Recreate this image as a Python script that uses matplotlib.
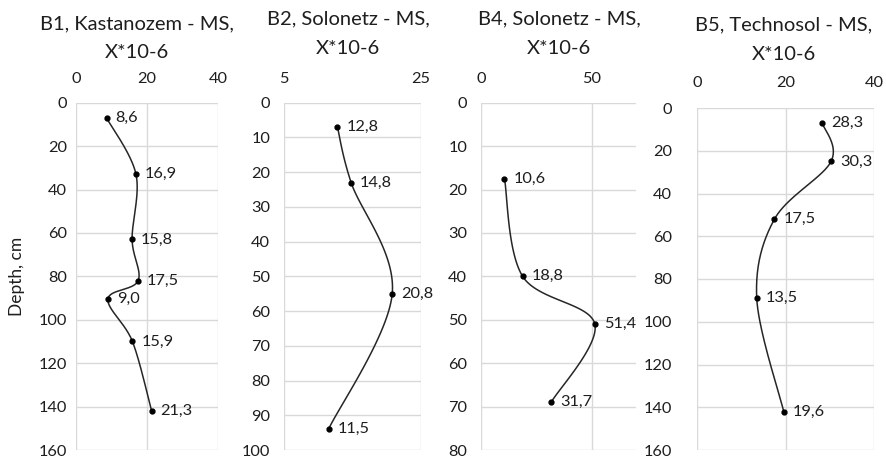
import numpy as np
import matplotlib
matplotlib.use("Agg")
import matplotlib.pyplot as plt

plt.rcParams['font.family'] = ['Lato', 'DejaVu Sans']

# ---- data ----
titles = ["B1, Kastanozem - MS,", "B2, Solonetz - MS,", "B4, Solonetz - MS,", "B5, Technosol - MS,"]
subtitle = "X*10-6"

b1_ms = [8.6, 16.9, 15.8, 17.5, 9.0, 15.9, 21.3]
b1_depth = [7, 33, 63, 82, 90.5, 110, 142]

b2_ms = [12.8, 14.8, 20.8, 11.5]
b2_depth = [7, 23, 55, 94]

b4_ms = [10.6, 18.8, 51.4, 31.7]
b4_depth = [17.5, 40, 51, 69]

b5_ms = [28.3, 30.3, 17.5, 13.5, 19.6]
b5_depth = [7, 25, 52, 89, 142]

xlims = [(0, 40), (5, 25), (0, 70), (0, 40)]
xticks = [[0, 20, 40], [5, 25], [0, 50], [0, 20, 40]]
ylims = [160, 100, 80, 160]
ysteps = [20, 10, 10, 20]

W, H = 886, 459
fig = plt.figure(figsize=(W / 100, H / 100), dpi=100)

# layout in pixels: left, right, top, bottom
boxes = [(76, 218, 102.7, 450), (284, 421, 102.7, 450), (481, 636, 102.7, 450), (697, 874, 108, 450)]
title_pos = [(137, 24, 53), (348, 19, 48), (559, 19, 49), (784, 25, 55)]
ypads = [6.5, 10, 10, 18]
xpads = [12, 12, 12, 13]

series = [(b1_ms, b1_depth), (b2_ms, b2_depth), (b4_ms, b4_depth), (b5_ms, b5_depth)]

TXT = '#1e1e1e'
GRID = '#d9d9d9'
FS = 11.8


def smooth(ax, xs, ys, n=40):
    pts = ax.transData.transform(np.column_stack([xs, ys]))
    m = len(pts)
    out = [pts[0]]
    for i in range(m - 1):
        p0 = pts[max(i - 1, 0)]
        p1 = pts[i]
        p2 = pts[i + 1]
        p3 = pts[min(i + 2, m - 1)]
        c1 = p1 + (p2 - p0) / 6.0
        c2 = p2 - (p3 - p1) / 6.0
        t = np.linspace(0, 1, n)[1:, None]
        seg = ((1 - t) ** 3) * p1 + 3 * ((1 - t) ** 2) * t * c1 + 3 * (1 - t) * t ** 2 * c2 + t ** 3 * p2
        out.extend(seg)
    out = np.array(out)
    return ax.transData.inverted().transform(out)


for k, ((l, r, t, b), (xs, ys)) in enumerate(zip(boxes, series)):
    ax = fig.add_axes([l / W, 1 - b / H, (r - l) / W, (b - t) / H])
    ax.set_xlim(*xlims[k])
    ax.set_ylim(ylims[k], 0)
    ax.set_xticks(xticks[k])
    ax.set_yticks(np.arange(0, ylims[k] + 1, ysteps[k]))
    ax.xaxis.tick_top()
    for s in ax.spines.values():
        s.set_visible(False)
    ax.grid(True, color=GRID, linewidth=1.0)
    ax.set_axisbelow(True)
    ax.tick_params(axis='both', length=0, labelsize=FS, colors=TXT)
    ax.tick_params(axis='y', pad=ypads[k])
    ax.tick_params(axis='x', pad=xpads[k])

    curve = smooth(ax, xs, ys)
    ax.plot(curve[:, 0], curve[:, 1], color='#262626', linewidth=1.1, clip_on=False)
    ax.plot(xs, ys, linestyle='none', marker='o', markersize=3.5, color='black', clip_on=False)
    for x, y in zip(xs, ys):
        ax.annotate(f"{x:.1f}".replace('.', ','), (x, y), xytext=(6.5, 0), textcoords='offset points',
                    ha='left', va='center', fontsize=FS, color=TXT, annotation_clip=False)

    cx, y1, y2 = title_pos[k]
    fig.text(cx / W, 1 - y1 / H, titles[k], ha='center', va='center', fontsize=14.5, color=TXT)
    fig.text(cx / W, 1 - y2 / H, subtitle, ha='center', va='center', fontsize=14.5, color=TXT)

    if k == 0:
        fig.text(17 / W, 1 - 276 / H, "Depth, cm", rotation=90, ha='center', va='center',
                 fontsize=12.5, color=TXT)

fig.savefig("out.png", dpi=100)
